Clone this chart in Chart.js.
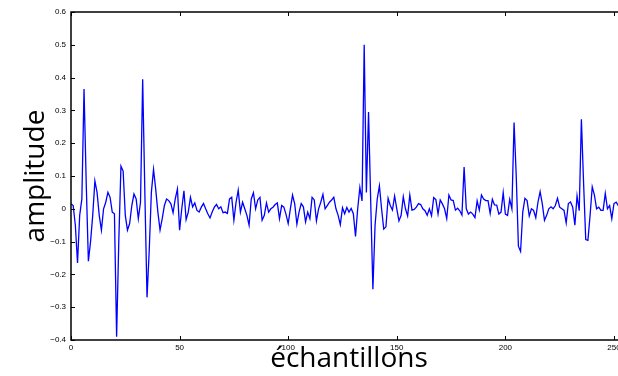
<!DOCTYPE html>
<html>
<head>
<meta charset="utf-8">
<script src="https://cdn.jsdelivr.net/npm/chart.js@4"></script>
<style>
    html, body { margin: 0; padding: 0; background: #ffffff; overflow: hidden; }
    #wrap { width: 640px; height: 376px; }
</style>
</head>
<body>
<div id="wrap"><canvas id="signalChart" width="640" height="376"></canvas></div>
<script>

/*==================================================
DATA
==================================================*/

const amplitude = [
    0.015, 0.01, -0.05, -0.165, -0.02, 0.03, 0.365, 0.08, -0.16, -0.1,
    -0.02, 0.085, 0.05, -0.02, -0.065, 0.0, 0.02, 0.05, 0.035, -0.01,
    -0.015, -0.39, -0.1, 0.13, 0.115, -0.02, -0.065, -0.045, 0.01, 0.045,
    0.03, -0.03, 0.02, 0.395, 0.05, -0.27, -0.13, 0.05, 0.12, 0.06,
    -0.01, -0.065, -0.03, 0.01, 0.03, 0.025, 0.015, -0.012, 0.03, 0.06,
    -0.065, 0.0, 0.055, -0.033, -0.01, 0.035, 0.006, 0.018, -0.005, -0.01,
    0.005, 0.016, 0.0, -0.015, -0.028, -0.01, 0.005, 0.013, 0.0, 0.006,
    -0.012, -0.01, -0.014, 0.03, 0.035, -0.035, 0.02, 0.057, -0.01, 0.02,
    0.0, -0.02, -0.05, 0.03, 0.049, 0.0, 0.027, 0.035, -0.035, -0.02,
    0.018, -0.01, 0.0, 0.005, 0.013, 0.018, -0.03, 0.01, 0.005, -0.017,
    -0.045, 0.0, 0.042, 0.015, -0.047, -0.01, 0.016, 0.006, -0.04, -0.01,
    -0.03, 0.035, 0.027, -0.037, 0.0, 0.02, 0.044, 0.0, 0.01, 0.02,
    0.027, 0.035, 0.0, -0.02, -0.048, 0.003, -0.015, 0.004, -0.01, 0.001,
    -0.015, -0.084, 0.0, 0.065, 0.024, 0.5, 0.05, 0.295, 0.02, -0.245,
    -0.05, 0.03, 0.07, 0.0, -0.062, -0.055, 0.032, 0.01, -0.004, 0.039,
    0.0, -0.037, -0.02, 0.037, 0.0, -0.022, 0.042, -0.004, -0.002, 0.005,
    0.016, 0.013, 0.0, -0.006, -0.02, 0.0, -0.021, 0.034, 0.028, -0.016,
    0.027, 0.015, 0.0, -0.03, 0.042, 0.027, 0.025, -0.004, 0.002, -0.006,
    -0.019, 0.127, 0.0, -0.016, -0.01, -0.016, -0.027, 0.024, -0.004, 0.042,
    0.03, 0.025, 0.025, -0.014, 0.029, 0.012, 0.011, -0.016, -0.01, 0.049,
    -0.016, -0.02, 0.029, 0.0, 0.263, 0.1, -0.114, -0.13, -0.01, 0.032,
    0.025, -0.022, 0.0, -0.005, -0.027, 0.02, 0.052, 0.015, -0.035, -0.02,
    0.0, 0.006, 0.0, 0.01, 0.032, 0.005, 0.0, -0.005, -0.043, 0.016,
    0.021, 0.005, -0.05, 0.039, -0.006, 0.273, 0.08, -0.094, -0.096, -0.02,
    0.067, 0.042, 0.0, 0.005, -0.005, -0.005, 0.047, 0.0, 0.01, -0.03,
    0.016, 0.02, 0.01, -0.01, 0.01, 0.015
];

const xTicks = [0, 50, 100, 150, 200, 250];

const yTicks = [-0.4, -0.3, -0.2, -0.1, 0, 0.1, 0.2, 0.3, 0.4, 0.5, 0.6];

const xLabel = "échantillons";

const yLabel = "amplitude";

/*==================================================
FRAME + INWARD TICKS
==================================================*/

const framePlugin = {

    id: "frame",

    afterDatasetsDraw(chart) {

        const { ctx, chartArea, scales } = chart;

        const len = 4;

        ctx.save();

        ctx.strokeStyle = "#000000";

        ctx.lineWidth = 1;

        ctx.beginPath();

        xTicks.forEach(v => {

            const px = Math.round(scales.x.getPixelForValue(v)) + 0.5;

            ctx.moveTo(px, chartArea.bottom);
            ctx.lineTo(px, chartArea.bottom - len);

            ctx.moveTo(px, chartArea.top);
            ctx.lineTo(px, chartArea.top + len);

        });

        yTicks.forEach(v => {

            const py = Math.round(scales.y.getPixelForValue(v)) + 0.5;

            ctx.moveTo(chartArea.left, py);
            ctx.lineTo(chartArea.left + len, py);

            ctx.moveTo(chartArea.right, py);
            ctx.lineTo(chartArea.right - len, py);

        });

        ctx.stroke();

        ctx.lineWidth = 1.5;

        ctx.strokeRect(chartArea.left, chartArea.top, chartArea.right - chartArea.left, chartArea.bottom - chartArea.top);

        ctx.restore();

    }

};

/*==================================================
CHART
==================================================*/

function formatTick(v) {

    if (Math.abs(v) < 1e-9) return "0";

    const s = Math.abs(v).toFixed(1);

    return v < 0 ? "\u2212" + s : s;

}

new Chart(document.getElementById("signalChart"), {

    type: "line",

    data: {

        datasets: [{

            data: amplitude.map((a, i) => ({ x: i, y: a })),

            borderColor: "#0000ff",

            borderWidth: 1.3,

            pointRadius: 0,

            tension: 0,

            fill: false

        }]

    },

    options: {

        responsive: false,

        animation: false,

        layout: {

            padding: { top: 12, right: 13, left: 0, bottom: 0 }

        },

        plugins: {

            legend: { display: false },

            tooltip: { enabled: false }

        },

        scales: {

            x: {

                type: "linear",

                min: 0,

                max: 256,

                afterBuildTicks: scale => {

                    scale.ticks = xTicks.map(v => ({ value: v }));

                },

                afterFit: scale => {

                    scale.height = 36;

                },

                grid: { display: false, drawTicks: false },

                border: { display: false },

                ticks: {

                    padding: 3,

                    maxRotation: 0,

                    autoSkip: false,

                    color: "#000000",

                    font: { family: "Liberation Sans", size: 8 }

                },

                title: {

                    display: true,

                    text: xLabel,

                    color: "#000000",

                    padding: { top: 0, bottom: 0 },

                    font: { family: "Open Sans", size: 28 }

                }

            },

            y: {

                min: -0.4,

                max: 0.6,

                afterBuildTicks: scale => {

                    scale.ticks = yTicks.map(v => ({ value: v }));

                },

                afterFit: scale => {

                    scale.width = 71;

                },

                grid: { display: false, drawTicks: false },

                border: { display: false },

                ticks: {

                    padding: 5,

                    autoSkip: false,

                    color: "#000000",

                    font: { family: "Liberation Sans", size: 8 },

                    callback: v => formatTick(v)

                },

                title: {

                    display: true,

                    text: yLabel,

                    color: "#000000",

                    padding: { top: 19, bottom: 0 },

                    font: { family: "Open Sans", size: 28 }

                }

            }

        }

    },

    plugins: [framePlugin]

});

</script>
</body>
</html>
